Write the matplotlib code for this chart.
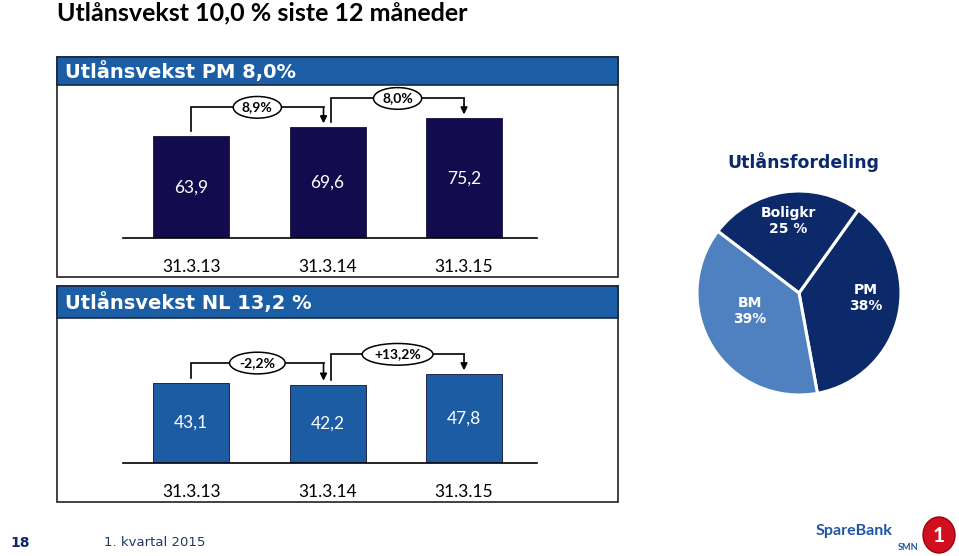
import matplotlib
matplotlib.use("Agg")
import matplotlib.pyplot as plt
from matplotlib.patches import Rectangle, Ellipse

# data
dates = ["31.3.13", "31.3.14", "31.3.15"]
pm_values = [63.9, 69.6, 75.2]
pm_labels = ["63,9", "69,6", "75,2"]
pm_growth = ["8,9%", "8,0%"]
nl_values = [43.1, 42.2, 47.8]
nl_labels = ["43,1", "42,2", "47,8"]
nl_growth = ["-2,2%", "+13,2%"]
pie_names = ["PM", "Boligkr", "BM"]
pie_shares = [38, 25, 39]
pie_texts = ["PM\n38%", "Boligkr\n25 %", "BM\n39%"]

W, H = 959, 556
header_col = "#1b5ea6"
pm_col = "#120c4e"
nl_col = "#1b5ca3"
navy = "#0c2a6a"
bm_col = "#4f81c0"

fig = plt.figure(figsize=(W / 100, H / 100), dpi=100)

# background axes in pixel coordinates
bg = fig.add_axes([0, 0, 1, 1])
bg.set_xlim(0, W)
bg.set_ylim(H, 0)
bg.axis("off")


def px_axes(x0, y0, x1, y1):
    # y0/y1 are pixel rows from the top
    return fig.add_axes([x0 / W, 1 - y1 / H, (x1 - x0) / W, (y1 - y0) / H])


bg.text(57, 13, "Utlånsvekst 10,0 % siste 12 måneder", fontsize=18, fontweight="bold",
        family="Lato", va="center", ha="left", color="black")

# panel boxes and headers
for (top, bottom, hdr_bottom, title) in [(57, 277, 85, "Utlånsvekst PM 8,0%"),
                                         (286, 502, 318, "Utlånsvekst NL 13,2 %")]:
    bg.add_patch(Rectangle((57, top), 561, bottom - top, fill=False, ec="#333333", lw=1.3))
    bg.add_patch(Rectangle((57, top), 561, hdr_bottom - top, fc=header_col, ec="#1a2a40", lw=1.2))
    bg.text(65, (top + hdr_bottom) / 2 + 1, title, color="white", fontsize=14,
            fontweight="bold", family="DejaVu Sans", va="center", ha="left")


def bracket(ax, xa, xb, ya, yb, top, label, ppu):
    # vertical up from bar a, across, arrow down to bar b
    s = 5 / ppu
    ax.plot([xa, xa, xb], [ya + s, top, top], color="black", lw=1.2,
            solid_joinstyle="miter", zorder=3)
    ax.annotate("", xy=(xb, yb + 4 / ppu), xytext=(xb, top),
                arrowprops=dict(arrowstyle="-|>", color="black", lw=1.2,
                                mutation_scale=10, shrinkA=0, shrinkB=0), zorder=3)
    ax.text((xa + xb) / 2, top, label, ha="center", va="center", fontsize=10,
            fontweight="bold", family="Lato", zorder=4,
            bbox=dict(boxstyle="ellipse,pad=0.12", fc="white", ec="black", lw=1.1))


def bar_panel(y_top, y_base, values, labels, growth, color, ppu):
    ax = px_axes(123, y_top, 537, y_base)
    x = range(len(values))
    ax.bar(x, values, width=0.557, color=color, edgecolor="#10103a", linewidth=0.6, zorder=2)
    ax.set_xlim(-0.5, 2.535)
    ax.set_ylim(0, (y_base - y_top) / ppu)
    for i, v in enumerate(values):
        ax.text(i, v / 2, labels[i], color="white", ha="center", va="center",
                fontsize=12.5, family="Lato")
    for i in range(len(values) - 1):
        top = max(values[i], values[i + 1]) + 20 / ppu
        xa = i if i == 0 else i + 0.026
        bracket(ax, xa, i + 1 - 0.03 * (i == 0), values[i], values[i + 1], top, growth[i], ppu)
    ax.set_xticks(list(x))
    ax.set_xticklabels(dates, fontsize=12.5, family="Lato")
    ax.tick_params(axis="x", length=0, pad=15)
    ax.set_yticks([])
    for sp in ["top", "left", "right"]:
        ax.spines[sp].set_visible(False)
    ax.spines["bottom"].set_linewidth(1.2)
    ax.patch.set_alpha(0)
    return ax


bar_panel(85, 238, pm_values, pm_labels, pm_growth, pm_col, 1.59)
bar_panel(318, 463, nl_values, nl_labels, nl_growth, nl_col, 1.855)

# pie
bg.text(803, 162, "Utlånsfordeling", color=navy, fontsize=12.5, fontweight="bold",
        family="DejaVu Sans", ha="center", va="center")
pax = px_axes(697, 191, 901, 395)
pax.pie(pie_shares, colors=[navy, navy, bm_col], startangle=-79.6, counterclock=True,
        wedgeprops=dict(edgecolor="white", linewidth=2.2))
pax.set_xlim(-1, 1)
pax.set_ylim(-1, 1)
pax.set_aspect("equal")
for (tx, ty), t in zip([(866, 298), (788, 221), (750, 311)], pie_texts):
    pax.text(tx, ty, t, transform=bg.transData, clip_on=False, color="white", fontsize=10,
             fontweight="bold", family="DejaVu Sans", ha="center", va="center",
             linespacing=1.1, zorder=5)

# footer
bg.text(10, 543, "18", color=navy, fontsize=10, fontweight="bold", family="DejaVu Sans",
        va="center", ha="left")
bg.text(104, 543, "1. kvartal 2015", color="#1f3864", fontsize=9.5, family="DejaVu Sans",
        va="center", ha="left")

# logo
bg.text(892, 531, "SpareBank", color="#1f56a4", fontsize=11.5, fontweight="bold", family="Lato",
        va="center", ha="right")
bg.text(918, 548, "SMN", color="#1f56a4", fontsize=6.5, fontweight="bold", family="Lato",
        va="center", ha="right")
bg.add_patch(Ellipse((939, 535), 32, 36, fc="#d0101e", ec="#a00010", lw=1))
bg.text(939, 536, "1", color="white", fontsize=15, fontweight="bold", family="Lato",
        ha="center", va="center")

fig.savefig("out.png", dpi=100)
